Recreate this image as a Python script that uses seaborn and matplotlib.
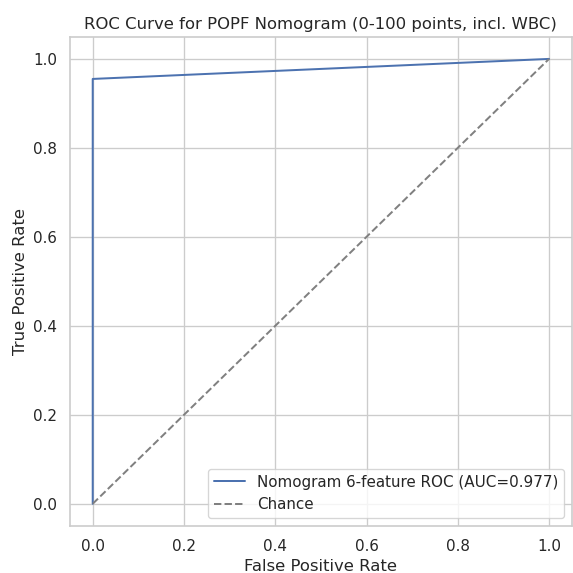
import pandas as pd
import matplotlib
matplotlib.use("Agg")
import matplotlib.pyplot as plt
import seaborn as sns

# ROC points
fpr = [0.0, 0.0, 1.0]
tpr = [0.0, 0.955, 1.0]
chance = [0.0, 1.0]
auc_value = 0.977

sns.set_theme(style="whitegrid", font_scale=1.04)

roc_df = pd.DataFrame({"fpr": fpr, "tpr": tpr})
chance_df = pd.DataFrame({"x": chance, "y": chance})

fig, ax = plt.subplots(figsize=(6, 6), dpi=95.5)

ax.plot(roc_df["fpr"], roc_df["tpr"], color="#4c72b0", lw=1.5,
        label=f"Nomogram 6-feature ROC (AUC={auc_value:.3f})")
ax.plot(chance_df["x"], chance_df["y"], "--", color="gray", lw=1.5,
        label="Chance")

ax.set_xlim(-0.05, 1.05)
ax.set_ylim(-0.05, 1.05)
ax.set_title("ROC Curve for POPF Nomogram (0-100 points, incl. WBC)")
ax.set_xlabel("False Positive Rate")
ax.set_ylabel("True Positive Rate")
ax.legend(loc="lower right")

fig.subplots_adjust(left=0.122, right=0.998, top=0.936, bottom=0.082)
plt.savefig("out.png", dpi=95.5)
